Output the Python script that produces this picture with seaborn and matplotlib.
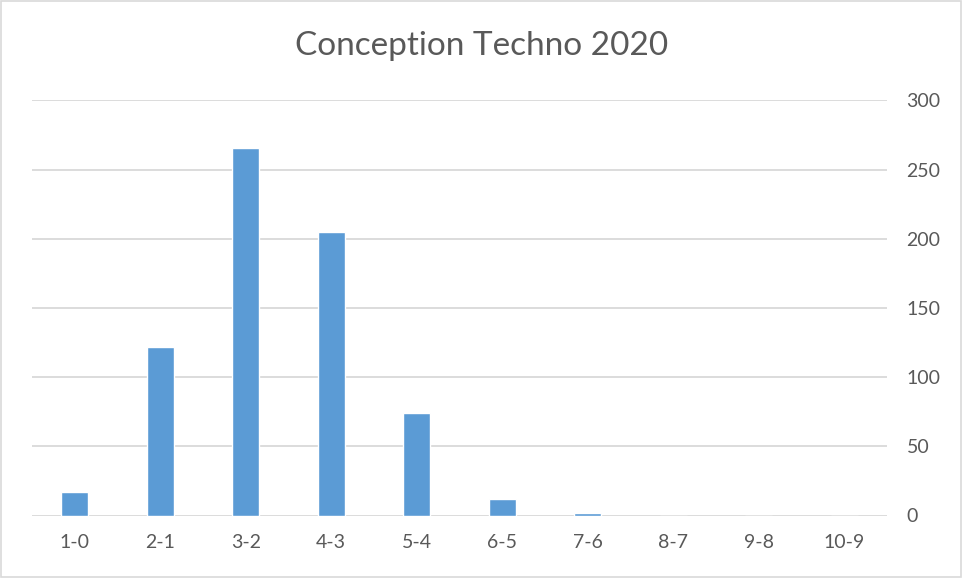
import seaborn as sns
import matplotlib.pyplot as plt
import pandas as pd

sns.set_style("white")
plt.rcParams['font.family'] = ['Lato', 'DejaVu Sans']

# score categories and counts
scores = ["1-0", "2-1", "3-2", "4-3", "5-4", "6-5", "7-6", "8-7", "9-8", "10-9"]
counts = [17, 122, 266, 205, 74, 12, 2, 0, 0, 0]

df = pd.DataFrame({"score": scores, "count": counts})

text_col = "#595959"
grid_col = "#d9d9d9"

fig = plt.figure(figsize=(9.63, 5.78), dpi=100)
ax = fig.add_axes([32 / 963, 62.5 / 578, 855 / 963, 415 / 578])

sns.barplot(data=df, x="score", y="count", color="#5B9BD5", saturation=1,
            width=0.31, ax=ax)

ax.set_ylim(0, 300)
ax.set_yticks(range(0, 301, 50))
ax.yaxis.tick_right()
ax.yaxis.grid(True, color=grid_col, linewidth=1.3)
ax.set_axisbelow(True)
for s in ax.spines.values():
    s.set_visible(False)
ax.tick_params(axis="both", length=0, labelsize=14, labelcolor=text_col)
ax.tick_params(axis="y", pad=14)
ax.tick_params(axis="x", pad=13)
ax.set_xlabel("")
ax.set_ylabel("")

fig.text(0.5, 1 - 46 / 578, "Conception Techno 2020", ha="center", va="center",
         fontsize=24, color=text_col)

# light border around the chart area
fig.patches.append(plt.Rectangle((0.001, 0.001), 0.997, 0.997, transform=fig.transFigure,
                                 fill=False, edgecolor=grid_col, linewidth=1.2))

plt.savefig("out.png", dpi=100)
plt.close()
